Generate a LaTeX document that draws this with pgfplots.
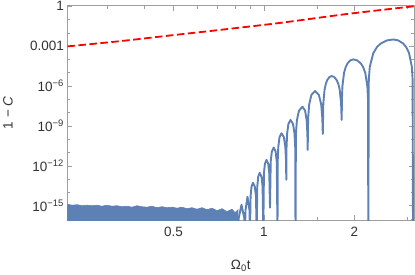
\documentclass[border=0pt]{standalone}
\usepackage{fontspec}
\setmainfont{Liberation Sans}
\usepackage{pgfplots}
\pgfplotsset{compat=1.18}
\definecolor{mblue}{rgb}{0.368417,0.506779,0.709798}
\definecolor{framegray}{gray}{0.62}
\definecolor{labgray}{gray}{0.2}
\begin{document}
\begin{tikzpicture}
\path[use as bounding box] (0,0) rectangle (415pt,274pt);
\begin{axis}[
  at={(67.5pt,54pt)}, anchor=south west,
  scale only axis, width=346.5pt, height=214.3pt,
  xmode=log, ymode=log,
  xmin=0.222, xmax=3.155, ymin=8.4e-17, ymax=1.1,
  xtick={0.5,1,2}, xticklabels={0.5,1,2},
  minor xtick={0.3,0.4,0.6,0.7,0.8,0.9,1.5,3},
  ytick={1e-15,1e-12,1e-9,1e-6,1e-3,1},
  yticklabels={{10\textsuperscript{−15}},{10\textsuperscript{−12}},{10\textsuperscript{−9}},{10\textsuperscript{−6}},{0.001},{1}},
  minor ytick={1e-16,1e-14,1e-13,1e-11,1e-10,1e-8,1e-7,1e-5,1e-4,1e-2,1e-1},
  tick align=inside,
  major tick length=5pt, minor tick length=3pt,
  axis line style={framegray, line width=0.7pt},
  tick style={framegray, line width=0.6pt},
  tick label style={text=labgray, font=\fontsize{13.5}{16}\selectfont},
  xticklabel style={yshift=-4pt},
  label style={text=labgray, font=\fontsize{13.5}{16}\selectfont},
  xlabel={Ω\textsubscript{0}t},
  ylabel={1 − \textit{C}},
  xlabel style={at={(axis description cs:0.5,-0.2147)}, anchor=center},
  ylabel style={at={(axis description cs:-0.1717,0.5)}, anchor=center, rotate=0},
]
% numerical noise floor (drawn as filled band)
\addplot[draw=mblue, line width=0.6pt, fill=mblue] coordinates {
(0.2220,1e-17) (0.2220,1.296e-15) (0.22977,1.090e-15) (0.23874,1.189e-15) (0.24806,1.0e-15)
(0.25775,1.090e-15) (0.26781,1.0e-15) (0.27827,1.090e-15) (0.28913,9.17e-16) (0.30042,1.090e-15)
(0.31215,9.17e-16) (0.32434,1.0e-15) (0.33700,8.41e-16) (0.35016,9.17e-16) (0.36383,7.72e-16)
(0.37803,1.0e-15) (0.39279,8.41e-16) (0.40813,7.72e-16) (0.42406,9.17e-16) (0.44062,7.08e-16)
(0.45782,8.41e-16) (0.47570,7.08e-16) (0.49427,7.72e-16) (0.51357,6.49e-16) (0.53362,7.72e-16)
(0.55445,5.96e-16) (0.57610,7.08e-16) (0.59859,5.46e-16) (0.62196,7.08e-16) (0.64624,5.01e-16)
(0.67147,6.49e-16) (0.69769,4.22e-16) (0.72492,5.96e-16) (0.75323,3.55e-16) (0.78263,5.46e-16)
(0.80082,2.99e-16) (0.81943,5.01e-16) (0.81943,1e-17)
};
% oscillating part
\addplot[mblue, line width=1.9pt, line join=round] coordinates {
(0.81943,1e-17) (0.82382,1.135e-16) (0.84169,1.189e-15) (0.85993,1.135e-16) (0.86455,1e-17)
(0.86787,4.52e-16) (0.88127,4.73e-15) (0.89487,4.52e-16) (0.89830,1e-17)
(0.90244,5.07e-15) (0.90869,2.66e-14) (0.91919,5.31e-14) (0.93231,2.66e-14) (0.94027,5.07e-15) (0.94562,1e-17)
(0.94998,2.85e-14) (0.95655,1.496e-13) (0.96760,2.985e-13) (0.98103,1.496e-13) (0.98918,2.85e-14) (0.99465,1e-17)
(0.99954,2.69e-13) (1.00692,1.413e-12) (1.01933,2.818e-12) (1.03309,1.413e-12) (1.04143,2.69e-13) (1.04703,7.08e-16)
(1.05299,2.252e-12) (1.06198,1.182e-11) (1.07713,2.358e-11) (1.09292,1.182e-11) (1.10251,2.252e-12) (1.10895,1e-17)
(1.11099,2.527e-12) (1.11577,2.707e-11) (1.12607,1.421e-10) (1.14345,2.835e-10) (1.16467,1.421e-10) (1.17759,2.707e-11) (1.18365,2.527e-12) (1.18628,8.91e-14)
(1.18855,2.512e-11) (1.19394,2.692e-10) (1.20552,1.413e-9) (1.22507,2.818e-9) (1.24876,1.413e-9) (1.26319,2.692e-10) (1.26998,2.512e-11) (1.27290,1e-17)
(1.27700,2.497e-10) (1.28662,2.676e-9) (1.30748,1.404e-8) (1.34301,2.802e-8) (1.37003,1.404e-8) (1.38650,2.676e-9) (1.39428,2.497e-10) (1.39759,1.585e-11)
(1.40231,3.758e-9) (1.41331,4.027e-8) (1.43722,2.113e-7) (1.47797,4.217e-7) (1.52279,2.113e-7) (1.55033,4.027e-8) (1.56333,3.758e-9) (1.56897,2.512e-10)
(1.57535,5.012e-8) (1.59051,5.370e-7) (1.60692,1.535e-6) (1.62337,2.818e-6) (1.65134,4.786e-6) (1.67966,5.623e-6) (1.71214,4.786e-6) (1.74524,2.818e-6) (1.76541,1.535e-6) (1.78581,5.370e-7) (1.80506,5.012e-8) (1.81338,2.818e-9)
(1.81658,1.006e-7) (1.82313,8.96e-7) (1.84590,9.61e-6) (1.87067,2.745e-5) (1.89577,5.04e-5) (1.93836,8.56e-5) (1.98190,1.006e-4) (2.03966,8.56e-5) (2.09911,5.04e-5) (2.13560,2.745e-5) (2.17273,9.61e-6) (2.20796,8.96e-7) (2.21814,1.006e-7) (2.22324,1e-17)
(2.23177,3.18e-6) (2.24893,2.835e-5) (2.31004,3.038e-4) (2.37736,8.68e-4) (2.44664,1.594e-3) (2.56661,2.707e-3) (2.69245,3.18e-3) (2.79607,2.707e-3) (2.90347,1.594e-3) (2.96983,8.68e-4) (3.03793,3.038e-4) (3.10284,2.835e-5) (3.12144,3.18e-6) (3.13102,1e-17)
};
% bound (red dashed)
\addplot[red, line width=1.8pt, dash pattern=on 7.5pt off 3.5pt, smooth] coordinates {
(0.2220,9.6e-4) (0.33185,2.37e-3) (0.48672,6.34e-3) (0.71390,1.669e-2) (1.13039,5.59e-2) (1.88419,0.260) (3.155,1.0)
};
\end{axis}
\end{tikzpicture}
\end{document}
